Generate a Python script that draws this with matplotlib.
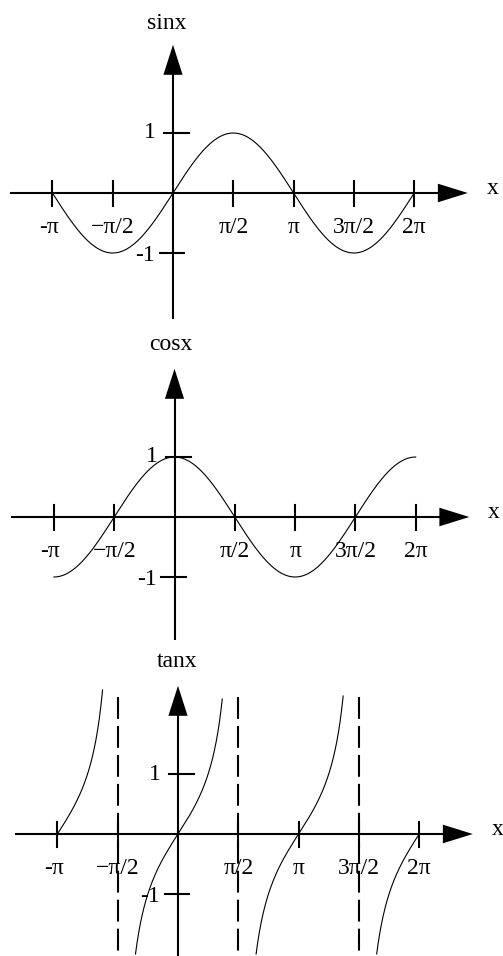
import numpy as np
import matplotlib
matplotlib.use('Agg')
import matplotlib.pyplot as plt
from matplotlib.patches import Polygon

PI = np.pi

# tick marks and their labels
xtick_pos = [-PI, -PI / 2, PI / 2, PI, 3 * PI / 2, 2 * PI]
xtick_labels = ['-π', '−π/2', 'π/2', 'π', '3π/2', '2π']
ytick_pos = [1, -1]
ytick_labels = ['1', '-1']
titles = ['sinx', 'cosx', 'tanx']

# curve domain
x_lo, x_hi = -PI, 2 * PI

# tan: one piece per period, kept inside the drawn height
tan_centers = [-PI, 0, PI, 2 * PI]
tan_low = [0.0, -2.0, -2.0, -2.0]
tan_high = [2.4, 2.25, 2.3, 0.0]
asymptotes = [-PI / 2, PI / 2, 3 * PI / 2]

W, H = 503, 956
SX = 60.3 / (PI / 2)   # px per radian
SY = 60.0              # px per unit

# (origin x px, origin y px, band top px, band bottom px)
panels = [(173, 193, 0, 320), (174.5, 517, 320, 640), (178, 834, 640, 956)]
title_off = [(-0.16, 2.83), (-0.1, 2.88), (-0.02, 2.87)]

FONT = dict(family=['Liberation Serif', 'DejaVu Serif'], fontsize=17, color='k')

fig = plt.figure(figsize=(W / 100, H / 100), dpi=100)


def make_axes(ox, oy, top, bot):
    ax = fig.add_axes([0, 1 - bot / H, 1, (bot - top) / H])
    ax.set_xlim(-ox / SX, (W - ox) / SX)
    ax.set_ylim((oy - bot) / SY, (oy - top) / SY)
    ax.axis('off')
    return ax


def draw_frame(ax, title, toff):
    lw = 1.5
    # x axis with arrow
    ax.plot([-4.25, 6.92], [0, 0], color='k', lw=lw, solid_capstyle='butt')
    ax.add_patch(Polygon([[6.9, 0.155], [7.68, 0], [6.9, -0.155]], closed=True,
                         facecolor='k', edgecolor='none'))
    # y axis with arrow
    ax.plot([0, 0], [-2.1, 1.99], color='k', lw=lw, solid_capstyle='butt')
    ax.add_patch(Polygon([[-0.25, 1.97], [0, 2.47], [0.25, 1.97]], closed=True,
                         facecolor='k', edgecolor='none'))
    for i, (p, lab) in enumerate(zip(xtick_pos, xtick_labels)):
        ax.plot([p, p], [-0.21, 0.2], color='k', lw=lw)
        dx = -0.1 if i == 0 else 0.0
        ax.text(p + dx, -0.58, lab, ha='center', va='center', **FONT)
    for p, lab in zip(ytick_pos, ytick_labels):
        if p > 0:
            ax.plot([-0.23, 0.42], [p, p], color='k', lw=lw)
            ax.text(-0.44, p, lab, ha='right', va='center', **FONT)
        else:
            ax.plot([-0.34, 0.29], [p, p], color='k', lw=lw)
            ax.text(-0.47, p - 0.04, lab, ha='right', va='center', **FONT)
    ax.text(8.32, 0.07, 'x', ha='center', va='center', **FONT)
    ax.text(toff[0], toff[1], title, ha='center', va='center', **FONT)


axes = [make_axes(*p) for p in panels]
for ax, t, toff in zip(axes, titles, title_off):
    draw_frame(ax, t, toff)

x = np.linspace(x_lo, x_hi, 800)
axes[0].plot(x, np.sin(x), color='k', lw=0.8)
axes[1].plot(x, np.cos(x), color='k', lw=0.8)

ax = axes[2]
for c, lo, hi in zip(tan_centers, tan_low, tan_high):
    xs = np.linspace(c + np.arctan(lo), c + np.arctan(hi), 300)
    ax.plot(xs, np.tan(xs), color='k', lw=0.8)
for a in asymptotes:
    ax.plot([a, a], [2.28, -2.2], color='k', lw=1.5, linestyle=(0, (10.5, 3.4)))

fig.savefig('out.png', dpi=100)
